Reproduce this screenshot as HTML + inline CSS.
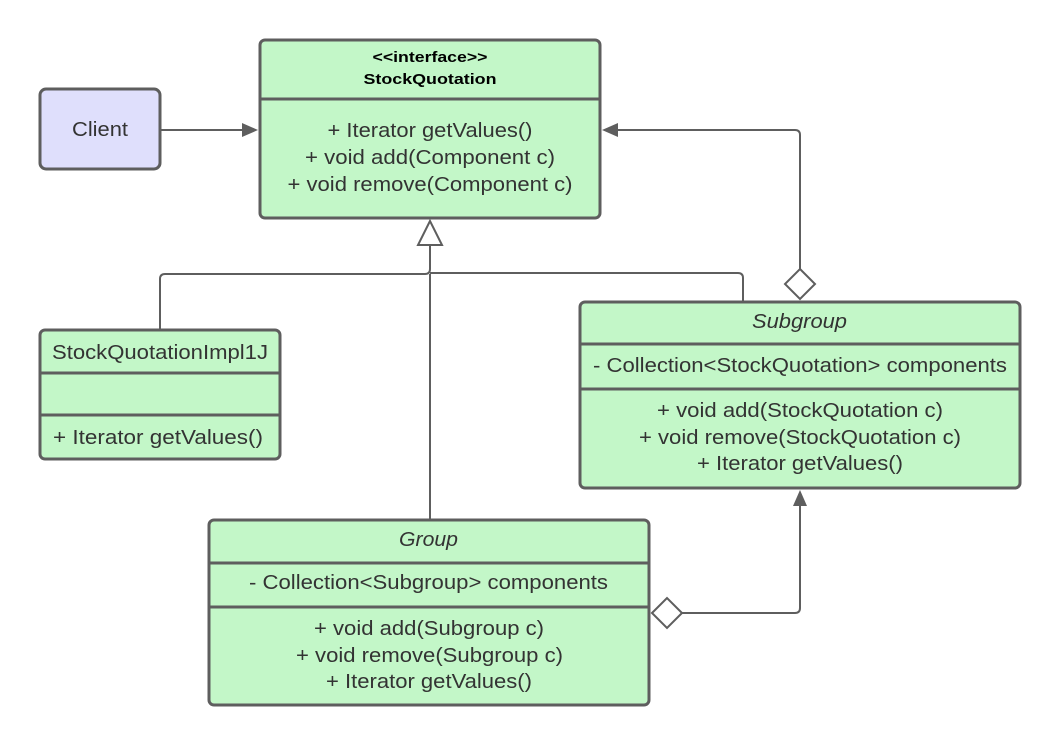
<!DOCTYPE html>
<html><head><meta charset="utf-8"><style>
html,body{margin:0;padding:0;background:#fff}
svg{display:block}
text{font-family:"Liberation Sans",Arial,sans-serif;fill:#333;font-size:20px}
.h{fill:#000;font-weight:bold;font-size:15px}
</style></head><body>
<svg width="1060" height="746" viewBox="0 0 1060 746" xmlns="http://www.w3.org/2000/svg">
<g stroke="#5e5e5e" stroke-width="3" fill="#c3f7c8">
<rect x="260" y="40" width="340" height="178" rx="5"/>
<line x1="260" y1="99" x2="600" y2="99"/>
<rect x="40" y="89" width="120" height="80" rx="6" fill="#dfdffc"/>
<rect x="40" y="330" width="240" height="129" rx="5"/>
<line x1="40" y1="373" x2="280" y2="373"/>
<line x1="40" y1="415" x2="280" y2="415"/>
<rect x="580" y="302" width="440" height="186" rx="5"/>
<line x1="580" y1="344" x2="1020" y2="344"/>
<line x1="580" y1="389" x2="1020" y2="389"/>
<rect x="209" y="520" width="440" height="185" rx="5"/>
<line x1="209" y1="563" x2="649" y2="563"/>
<line x1="209" y1="607" x2="649" y2="607"/>
</g>
<g stroke="#5e5e5e" stroke-width="2" fill="none">
<line x1="161" y1="130" x2="245" y2="130"/>
<path d="M800 269 V135 Q800 130 795 130 H615"/>
<path d="M160 330 V279 Q160 274 165 274 H425 Q430 274 430 269 V245"/>
<path d="M430 274 V520"/>
<path d="M430 273 H738 Q743 273 743 278 V302"/>
<path d="M682 613 H795 Q800 613 800 608 V505"/>
</g>
<g fill="#5e5e5e" stroke="none">
<polygon points="258,130 242,123 242,137"/>
<polygon points="602,130 618,123 618,137"/>
<polygon points="800,490 793,506 807,506"/>
</g>
<g stroke="#5e5e5e" stroke-width="2" fill="#fff">
<polygon points="430,221 418,245 442,245"/>
<polygon points="800,269 815,284 800,299 785,284"/>
<polygon points="652,613 667,598 682,613 667,628"/>
</g>
<g text-anchor="middle">
<text class="h" x="430" y="62" textLength="115" lengthAdjust="spacingAndGlyphs">&lt;&lt;interface&gt;&gt;</text>
<text class="h" x="430" y="84" textLength="133" lengthAdjust="spacingAndGlyphs">StockQuotation</text>
<text x="430" y="137" textLength="205" lengthAdjust="spacingAndGlyphs">+ Iterator getValues()</text>
<text x="430" y="164" textLength="250" lengthAdjust="spacingAndGlyphs">+ void add(Component c)</text>
<text x="430" y="191" textLength="285" lengthAdjust="spacingAndGlyphs">+ void remove(Component c)</text>
<text x="100" y="136" textLength="56" lengthAdjust="spacingAndGlyphs">Client</text>
<text x="160" y="359" textLength="216" lengthAdjust="spacingAndGlyphs">StockQuotationImpl1J</text>
<text x="158" y="444" textLength="210" lengthAdjust="spacingAndGlyphs">+ Iterator getValues()</text>
<text x="799.5" y="328" font-style="italic" textLength="95" lengthAdjust="spacingAndGlyphs">Subgroup</text>
<text x="800" y="372" textLength="414" lengthAdjust="spacingAndGlyphs">- Collection&lt;StockQuotation&gt; components</text>
<text x="800" y="417" textLength="286" lengthAdjust="spacingAndGlyphs">+ void add(StockQuotation c)</text>
<text x="800" y="444" textLength="322" lengthAdjust="spacingAndGlyphs">+ void remove(StockQuotation c)</text>
<text x="800" y="470" textLength="206" lengthAdjust="spacingAndGlyphs">+ Iterator getValues()</text>
<text x="428.5" y="546" font-style="italic" textLength="59" lengthAdjust="spacingAndGlyphs">Group</text>
<text x="428.5" y="589" textLength="359" lengthAdjust="spacingAndGlyphs">- Collection&lt;Subgroup&gt; components</text>
<text x="429" y="635" textLength="230" lengthAdjust="spacingAndGlyphs">+ void add(Subgroup c)</text>
<text x="429.5" y="662" textLength="267" lengthAdjust="spacingAndGlyphs">+ void remove(Subgroup c)</text>
<text x="429" y="688" textLength="206" lengthAdjust="spacingAndGlyphs">+ Iterator getValues()</text>
</g>
</svg>
</body></html>
